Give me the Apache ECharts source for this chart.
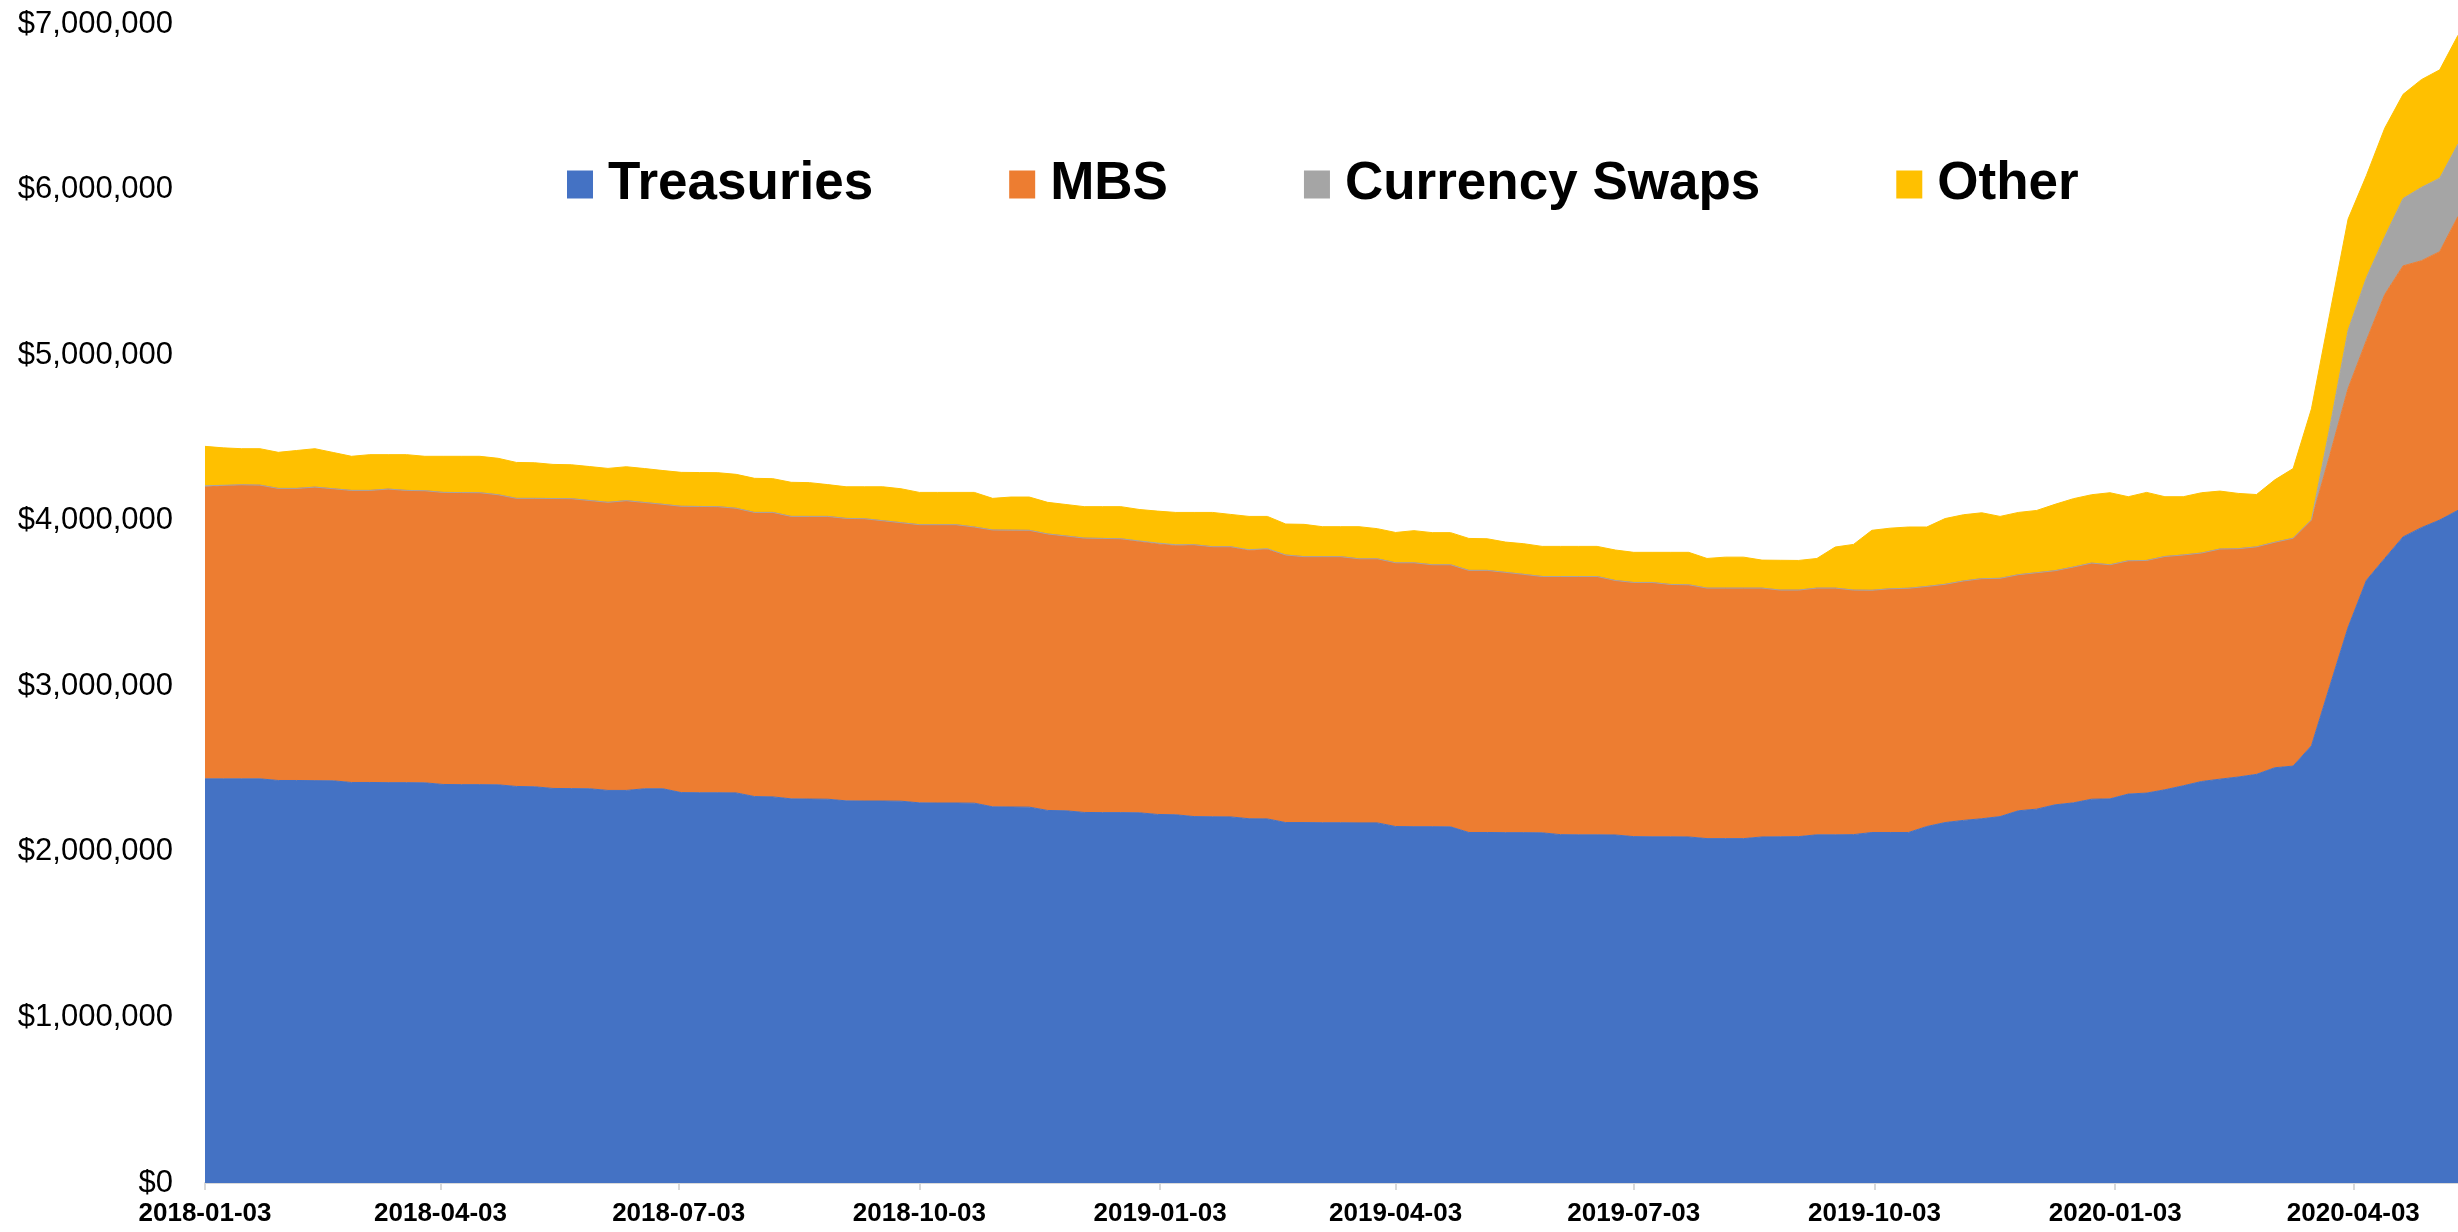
<!DOCTYPE html>
<html>
<head>
<meta charset="utf-8">
<script src="https://cdn.jsdelivr.net/npm/echarts@6/dist/echarts.min.js"></script>
<style>
  html, body { margin: 0; padding: 0; background: #ffffff; }
  #chart { width: 2458px; height: 1232px; }
</style>
</head>
<body>
<div id="chart"></div>
<script>
// Weekly (Wednesday) balance sheet dates
const weeks = [
  '2018-01-03','2018-01-10','2018-01-17','2018-01-24','2018-01-31','2018-02-07','2018-02-14','2018-02-21','2018-02-28',
  '2018-03-07','2018-03-14','2018-03-21','2018-03-28','2018-04-04','2018-04-11','2018-04-18','2018-04-25',
  '2018-05-02','2018-05-09','2018-05-16','2018-05-23','2018-05-30','2018-06-06','2018-06-13','2018-06-20','2018-06-27',
  '2018-07-04','2018-07-11','2018-07-18','2018-07-25','2018-08-01','2018-08-08','2018-08-15','2018-08-22','2018-08-29',
  '2018-09-05','2018-09-12','2018-09-19','2018-09-26','2018-10-03','2018-10-10','2018-10-17','2018-10-24','2018-10-31',
  '2018-11-07','2018-11-14','2018-11-21','2018-11-28','2018-12-05','2018-12-12','2018-12-19','2018-12-26',
  '2019-01-02','2019-01-09','2019-01-16','2019-01-23','2019-01-30','2019-02-06','2019-02-13','2019-02-20','2019-02-27',
  '2019-03-06','2019-03-13','2019-03-20','2019-03-27','2019-04-03','2019-04-10','2019-04-17','2019-04-24',
  '2019-05-01','2019-05-08','2019-05-15','2019-05-22','2019-05-29','2019-06-05','2019-06-12','2019-06-19','2019-06-26',
  '2019-07-03','2019-07-10','2019-07-17','2019-07-24','2019-07-31','2019-08-07','2019-08-14','2019-08-21','2019-08-28',
  '2019-09-04','2019-09-11','2019-09-18','2019-09-25','2019-10-02','2019-10-09','2019-10-16','2019-10-23','2019-10-30',
  '2019-11-06','2019-11-13','2019-11-20','2019-11-27','2019-12-04','2019-12-11','2019-12-18','2019-12-25',
  '2020-01-01','2020-01-08','2020-01-15','2020-01-22','2020-01-29','2020-02-05','2020-02-12','2020-02-19','2020-02-26',
  '2020-03-04','2020-03-11','2020-03-18','2020-03-25','2020-04-01','2020-04-08','2020-04-15','2020-04-22','2020-04-29',
  '2020-05-06','2020-05-13'
];

// Holdings, $ millions
const treasuries = [
  2441000,2441000,2441000,2441000,2431000,2431000,2430000,2429000,2419000,
  2419000,2418000,2418000,2417000,2407000,2406000,2406000,2405000,
  2395000,2393000,2383000,2382000,2381000,2371000,2371000,2381000,2381000,
  2358000,2357000,2357000,2356000,2334000,2332000,2320000,2319000,2318000,
  2308000,2307000,2307000,2306000,2296000,2295000,2295000,2294000,2272000,
  2271000,2270000,2250000,2248000,2238000,2237000,2237000,2236000,
  2226000,2224000,2213000,2212000,2211000,2200000,2199000,2177000,2177000,
  2176000,2176000,2175000,2175000,2153000,2152000,2152000,2151000,
  2117000,2117000,2116000,2116000,2115000,2104000,2103000,2103000,2102000,
  2092000,2091000,2091000,2090000,2080000,2080000,2080000,2090000,2091000,
  2092000,2103000,2103000,2104000,2117000,2117000,2117000,2153000,2177000,
  2190000,2200000,2213000,2248000,2258000,2284000,2296000,2318000,
  2320000,2349000,2355000,2375000,2399000,2425000,2439000,2452000,2468000,
  2508000,2518000,2641000,3000000,3356000,3640000,3772000,3902000,3958000,
  4004000,4063000
];

const mbs = [
  1762000,1770000,1776000,1774000,1764000,1764000,1773000,1764000,1764000,
  1764000,1773000,1765000,1764000,1764000,1764000,1763000,1752000,
  1740000,1742000,1751000,1751000,1741000,1740000,1750000,1729000,1718000,
  1729000,1729000,1728000,1719000,1716000,1718000,1706000,1707000,1708000,
  1706000,1705000,1693000,1682000,1680000,1681000,1681000,1668000,1672000,
  1672000,1672000,1670000,1660000,1657000,1656000,1654000,1639000,
  1634000,1627000,1642000,1631000,1632000,1620000,1629000,1616000,1606000,
  1607000,1607000,1595000,1595000,1593000,1594000,1582000,1583000,
  1583000,1583000,1572000,1560000,1548000,1559000,1560000,1560000,1537000,
  1535000,1536000,1524000,1523000,1513000,1513000,1513000,1503000,1490000,
  1489000,1490000,1490000,1477000,1463000,1472000,1475000,1450000,1439000,
  1446000,1450000,1439000,1426000,1428000,1414000,1424000,1426000,
  1414000,1409000,1405000,1409000,1394000,1380000,1390000,1379000,1374000,
  1362000,1376000,1363000,1395000,1443000,1449000,1594000,1637000,1612000,
  1621000,1775000
];

const currencySwaps = [
  8000,3000,0,0,0,0,0,0,0,
  0,0,0,0,0,0,0,0,
  0,0,0,0,0,0,0,0,0,
  0,0,0,0,0,0,0,0,0,
  0,0,0,0,0,0,0,0,0,
  0,0,0,0,0,0,0,3000,
  5000,4000,0,0,0,5000,3000,0,0,
  0,0,0,0,0,0,0,0,
  0,0,0,0,0,0,0,0,0,
  0,0,0,0,0,0,0,0,0,
  0,0,0,0,0,0,0,0,0,
  0,0,0,0,0,0,0,0,
  0,0,0,0,0,0,0,0,0,
  0,0,1000,167000,351000,379000,349000,407000,443000,
  444000,437000
];

const other = [
  238000,226000,218000,220000,218000,229000,232000,219000,206000,
  216000,208000,216000,208000,218000,219000,220000,220000,
  217000,215000,206000,205000,205000,205000,205000,205000,204000,
  205000,205000,205000,205000,206000,204000,206000,204000,192000,
  191000,193000,205000,205000,195000,195000,195000,209000,191000,
  200000,201000,191000,190000,190000,192000,194000,190000,
  193000,195000,195000,207000,195000,201000,195000,187000,195000,
  181000,181000,194000,182000,183000,194000,194000,194000,
  193000,191000,183000,185000,182000,182000,182000,182000,184000,
  182000,182000,194000,196000,179000,187000,187000,169000,180000,
  179000,179000,248000,276000,362000,366000,370000,359000,397000,
  400000,398000,374000,376000,376000,401000,413000,413000,
  435000,387000,411000,361000,352000,364000,350000,334000,316000,
  377000,421000,671000,688000,672000,617000,656000,629000,651000,
  654000,657000
];

const seriesNames = ['Treasuries', 'MBS', 'Currency Swaps', 'Other'];
const seriesColors = ['#4472C4', '#ED7D31', '#A5A5A5', '#FFC000'];
const tickDates = [
  '2018-01-03','2018-04-03','2018-07-03','2018-10-03','2019-01-03',
  '2019-04-03','2019-07-03','2019-10-03','2020-01-03','2020-04-03'
];

const FONT = '"Liberation Sans", Arial, sans-serif';

function toStamp(s) {
  const p = s.split('-').map(Number);
  return Date.UTC(p[0], p[1] - 1, p[2]);
}
function pad(n) { return n < 10 ? '0' + n : '' + n; }
function fmtDate(v) {
  const d = new Date(v);
  return d.getUTCFullYear() + '-' + pad(d.getUTCMonth() + 1) + '-' + pad(d.getUTCDate());
}
function fmtDollar(v) {
  return '$' + String(Math.round(v)).replace(/\B(?=(\d{3})+(?!\d))/g, ',');
}

const weekStamps = weeks.map(toStamp);
const tickStamps = tickDates.map(toStamp);
const values = [treasuries, mbs, currencySwaps, other];

const chart = echarts.init(document.getElementById('chart'), null, { renderer: 'canvas' });

chart.setOption({
  animation: false,
  backgroundColor: '#ffffff',
  grid: { left: 205, top: 24, width: 2257, height: 1159, containLabel: false },
  legend: {
    data: seriesNames,
    left: 562,
    top: 153,
    icon: 'rect',
    itemWidth: 26,
    itemHeight: 28,
    itemGap: 136,
    selectedMode: false,
    textStyle: {
      fontFamily: FONT, fontWeight: 'bold', fontSize: 53, color: '#000000',
      padding: [0, 0, 0, 10]
    }
  },
  xAxis: {
    type: 'value',
    min: 'dataMin',
    max: 'dataMax',
    scale: true,
    axisLine: { show: true, onZero: false, lineStyle: { color: '#D9D9D9', width: 2 } },
    axisTick: {
      show: true, customValues: tickStamps, length: 7,
      lineStyle: { color: '#D9D9D9', width: 2 }
    },
    axisLabel: {
      customValues: tickStamps,
      formatter: function (v) { return fmtDate(v); },
      fontFamily: FONT, fontWeight: 'bold', fontSize: 26, color: '#000000',
      margin: 18, hideOverlap: false, showMinLabel: true, showMaxLabel: true
    },
    splitLine: { show: false }
  },
  yAxis: {
    type: 'value',
    min: 0,
    max: 7000000,
    interval: 1000000,
    axisLine: { show: false },
    axisTick: { show: false },
    splitLine: { show: false },
    axisLabel: {
      formatter: fmtDollar,
      fontFamily: FONT, fontSize: 31, color: '#000000', margin: 32
    }
  },
  series: seriesNames.map(function (name, k) {
    return {
      name: name,
      type: 'line',
      stack: 'total',
      symbol: 'none',
      showSymbol: false,
      itemStyle: { color: seriesColors[k] },
      lineStyle: { width: 1, color: seriesColors[k] },
      areaStyle: { color: seriesColors[k], opacity: 1 },
      emphasis: { disabled: true },
      // value first so the stack accumulates amounts, not dates
      encode: { x: 1, y: 0 },
      data: weekStamps.map(function (t, i) { return [values[k][i], t]; })
    };
  })
});
</script>
</body>
</html>
